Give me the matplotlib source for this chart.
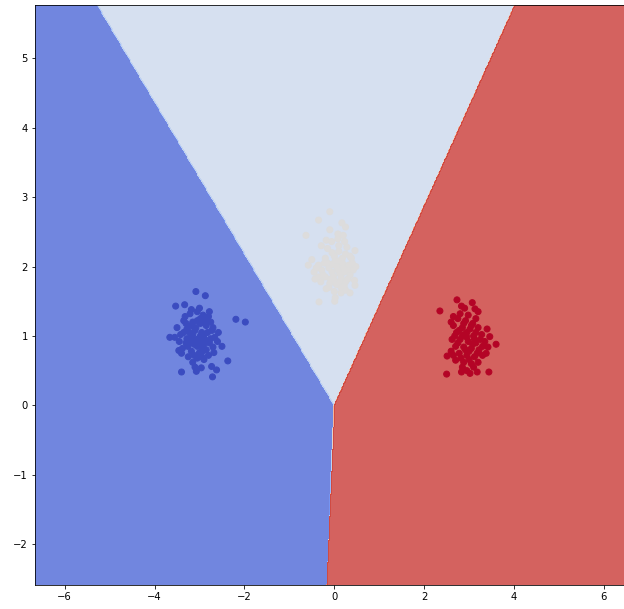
"""
Three-class linear decision regions with the training blobs on top.
Saves out.png (624x609).
"""
import numpy as np
import matplotlib
matplotlib.use("Agg")
import matplotlib.pyplot as plt

# class 0 (blue blob, left)
BLUE_X = [-3.08, -2.87, -3.53, -3.33, -2.19, -1.98, -3.66, -3.46, -2.37, -3.40,
          -3.07, -2.96, -2.73, -2.62, -2.71,
          -3.21, -3.05, -2.92, -2.80, -3.35, -3.15, -2.98, -2.85, -3.28, -3.10,
          -2.95, -2.72, -3.42, -3.20, -3.02, -2.88, -2.66, -3.30, -3.12, -2.96,
          -2.78, -3.38, -3.18, -3.00, -2.85, -2.70, -3.25, -3.05, -2.90, -3.15,
          -2.98, -3.08, -2.90, -3.22, -2.80, -3.45, -2.60, -3.32, -2.75, -3.00,
          -3.12, -2.93, -3.26, -2.58, -3.50,
          -3.05, -2.88, -3.18, -2.70, -3.35, -2.98, -2.82, -3.15, -3.28, -2.75,
          -3.05, -2.90, -3.22, -2.68, -3.12, -2.95, -3.40, -3.30, -2.85, -3.00,
          -3.18, -2.78, -3.55, -2.50, -3.10]
BLUE_Y = [1.64, 1.58, 1.43, 1.45, 1.24, 1.20, 0.98, 0.79, 0.64, 0.48,
          0.49, 0.54, 0.56, 0.51, 0.41,
          1.32, 1.35, 1.30, 1.28, 1.22, 1.20, 1.18, 1.15, 1.10, 1.08,
          1.05, 1.08, 1.02, 0.98, 0.96, 0.95, 0.98, 0.90, 0.88, 0.86,
          0.90, 0.82, 0.78, 0.76, 0.80, 0.84, 0.70, 0.68, 0.66, 0.62,
          1.25, 1.12, 1.02, 1.05, 0.72, 0.92, 0.92, 1.28, 1.20, 0.92,
          0.95, 0.78, 0.85, 1.05, 1.12,
          1.22, 1.20, 1.15, 1.12, 1.05, 1.00, 1.05, 1.02, 0.96, 0.96,
          0.85, 0.88, 0.90, 0.76, 0.72, 0.70, 0.75, 1.18, 1.25, 1.40,
          1.38, 1.35, 0.98, 0.85, 0.55]

# class 1 (grey blob, middle)
GREY_X = [-0.10, -0.35, 0.17, 0.25, -0.10, -0.63, 0.08, -0.29, -0.06, 0.23,
          0.46, -0.58, -0.43, 0.46, 0.35, -0.34, 0.01,
          -0.05, 0.10, 0.25, 0.38, -0.20, 0.02, 0.18, 0.32, -0.35, -0.12,
          0.08, 0.22, 0.42, -0.45, -0.25, -0.02, 0.15, 0.30, -0.30, -0.10,
          0.05, 0.22, -0.18, 0.00, 0.15, 0.10, -0.15, 0.28, -0.40, 0.35,
          0.05, -0.05, 0.20, -0.28, 0.12, -0.08, 0.40, 0.25, -0.22, 0.48,
          0.00, 0.18, -0.15, 0.30, -0.05, 0.12, -0.20, 0.25, 0.00, -0.12,
          0.35, 0.08, -0.18, 0.15, -0.35, 0.45, 0.02, 0.20, -0.50, 0.10]
GREY_Y = [2.79, 2.67, 2.63, 2.57, 2.53, 2.45, 2.47, 2.30, 2.36, 2.36,
          2.23, 2.02, 1.82, 1.73, 1.62, 1.49, 1.50,
          2.20, 2.22, 2.18, 2.12, 2.12, 2.08, 2.05, 2.02, 2.02, 1.98,
          1.95, 1.92, 1.95, 1.92, 1.88, 1.86, 1.84, 1.82, 1.78, 1.76,
          1.74, 1.72, 1.68, 1.64, 1.62, 2.30, 2.26, 2.28, 1.98, 1.88,
          2.00, 1.92, 1.98, 1.95, 1.78, 1.82, 2.05, 1.66, 2.05, 2.00,
          2.15, 2.12, 2.05, 1.95, 2.03, 1.90, 1.85, 1.78, 1.80, 1.70,
          2.15, 2.40, 2.38, 1.70, 1.85, 1.80, 1.55, 2.45, 2.10, 2.08]

# class 2 (red blob, right)
RED_X = [2.73, 3.07, 2.35, 2.83, 3.13, 2.65, 3.46, 3.60, 2.51, 2.50,
         3.44, 2.83, 3.02, 3.18,
         2.75, 2.92, 3.08, 2.65, 2.85, 3.02, 3.20, 2.72, 2.90, 3.10,
         3.28, 2.62, 2.80, 2.98, 3.15, 3.35, 2.70, 2.88, 3.05, 3.22,
         3.42, 2.60, 2.78, 2.95, 3.12, 3.30, 2.70, 2.88, 3.05, 3.20,
         2.98, 2.80, 3.15, 2.95, 3.00, 3.25, 2.68, 3.38, 2.85, 3.10,
         2.88, 3.05, 2.78, 3.15, 2.95, 2.75, 3.08, 2.92, 3.18, 2.82,
         3.00, 3.30, 2.65, 3.12, 2.85, 2.90, 3.20, 2.60, 3.40, 2.95]
RED_Y = [1.52, 1.48, 1.36, 1.43, 1.39, 1.28, 0.99, 0.88, 0.71, 0.45,
         0.48, 0.48, 0.46, 0.48,
         1.25, 1.22, 1.18, 1.15, 1.12, 1.10, 1.12, 1.05, 1.02, 1.00,
         1.02, 0.95, 0.95, 0.92, 0.90, 0.92, 0.85, 0.84, 0.82, 0.80,
         0.84, 0.78, 0.75, 0.72, 0.70, 0.72, 0.65, 0.62, 0.60, 0.62,
         1.30, 1.32, 1.25, 0.98, 0.78, 0.95, 1.00, 0.75, 0.55, 0.55,
         1.18, 1.15, 1.08, 1.05, 1.05, 0.90, 0.88, 0.80, 0.75, 0.68,
         0.66, 0.85, 0.72, 0.95, 1.00, 1.40, 1.35, 1.20, 1.10, 0.50]

# linear model (all meet at the origin)
COEF = np.array([[-14.64, 0.91],
                 [-8.87, 6.18],
                 [0.0, 0.0]])
INTERCEPT = np.array([0.0, 0.0, 0.0])

STEP = 0.02
PAD = 3


def main():
    X = np.column_stack([BLUE_X + GREY_X + RED_X, BLUE_Y + GREY_Y + RED_Y])
    y = np.array([0] * len(BLUE_X) + [1] * len(GREY_X) + [2] * len(RED_X))

    x_min, x_max = X[:, 0].min() - PAD, X[:, 0].max() + PAD
    y_min, y_max = X[:, 1].min() - PAD, X[:, 1].max() + PAD
    xx, yy = np.meshgrid(np.arange(x_min, x_max, STEP),
                         np.arange(y_min, y_max, STEP))
    grid = np.c_[xx.ravel(), yy.ravel()]
    Z = np.argmax(grid @ COEF.T + INTERCEPT, axis=1).reshape(xx.shape)

    fig = plt.figure(figsize=(624 / 72, 609 / 72), dpi=72)
    ax = fig.add_axes([0.0561, 0.0394, 0.9535, 0.9524])
    ax.contourf(xx, yy, Z, cmap=plt.cm.coolwarm, alpha=0.8)
    ax.scatter(X[:, 0], X[:, 1], c=y, cmap=plt.cm.coolwarm)
    ax.set_xlim(xx.min(), xx.max())
    ax.set_ylim(yy.min(), yy.max())

    fig.savefig("out.png", dpi=72)


if __name__ == "__main__":
    main()
